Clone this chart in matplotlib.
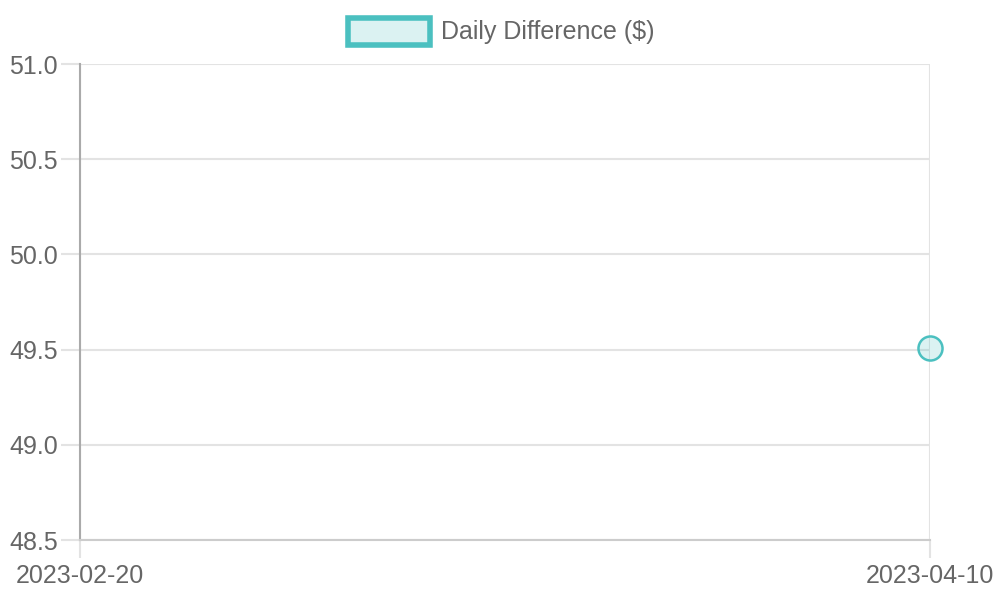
import matplotlib.pyplot as plt
from matplotlib.patches import Rectangle
import numpy as np

plt.rcParams['font.family'] = ['Liberation Sans', 'DejaVu Sans']

dates = ['2023-02-20', '2023-04-10']
daily_diff = [np.nan, 49.51]
y_ticks = [48.5, 49.0, 49.5, 50.0, 50.5, 51.0]
series_name = 'Daily Difference ($)'

TEAL = '#4bc0c0'
FILL = (75/255, 192/255, 192/255, 0.2)
GRID = '#e3e3e3'
TEXT = '#666666'

fig = plt.figure(figsize=(10, 6), dpi=100)
ax = fig.add_axes([0.08, 0.1, 0.85, 0.7933])

x = np.arange(len(dates))
ax.plot(x, daily_diff, color=TEAL, lw=3)
ax.scatter(x, daily_diff, s=300, facecolor=FILL, edgecolor=TEAL, linewidth=1.8, zorder=5, clip_on=False)

ax.set_xlim(0, len(dates) - 1)
ax.set_ylim(y_ticks[0], y_ticks[-1])
ax.set_xticks(x)
ax.set_xticklabels(dates)
ax.set_yticks(y_ticks)
ax.set_yticklabels(['%.1f' % v for v in y_ticks])

ax.grid(True, color=GRID, lw=1.5)
ax.tick_params(axis='both', colors=GRID, labelcolor=TEXT, labelsize=18, width=1.5)
ax.tick_params(axis='y', length=14, pad=2)
ax.tick_params(axis='x', length=13, pad=4)

for s in ['top', 'right']:
    ax.spines[s].set_visible(False)
ax.spines['left'].set_color('#aaaaaa')
ax.spines['left'].set_linewidth(1.5)
ax.spines['bottom'].set_color('#cccccc')
ax.spines['bottom'].set_linewidth(1.5)

# legend box at top
fig.patches.append(Rectangle((348/1000, 1 - 45/600), 82/1000, 27/600, transform=fig.transFigure,
                             facecolor=FILL, edgecolor=TEAL, linewidth=4, figure=fig))
fig.text(441/1000, 1 - 32/600, series_name, color=TEXT, fontsize=18, va='center', ha='left')

fig.savefig('out.png', dpi=100)
